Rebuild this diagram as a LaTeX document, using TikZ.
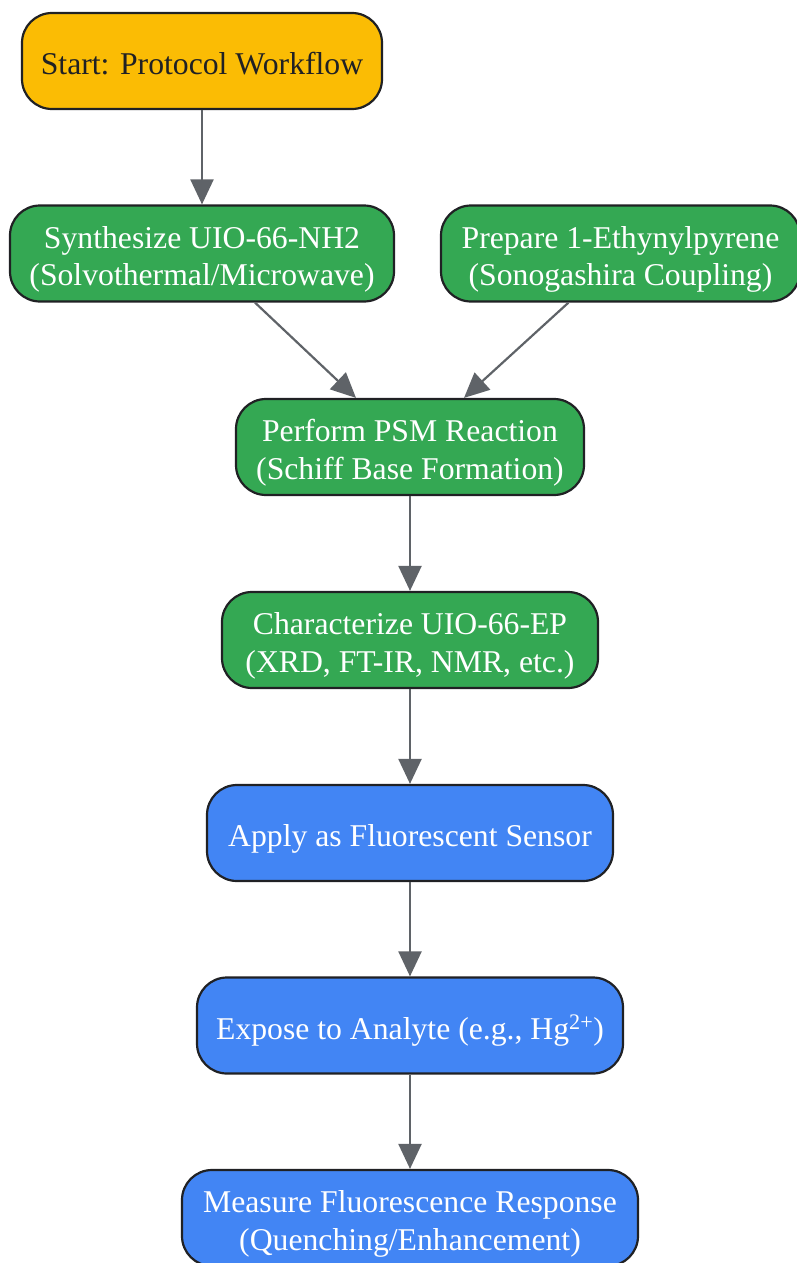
\documentclass[tikz,border=0pt]{standalone}
\usepackage{fontspec}
\setmainfont{Liberation Serif}
\usetikzlibrary{arrows.meta}
\definecolor{cyellow}{HTML}{FBBC04}
\definecolor{cgreen}{HTML}{34A853}
\definecolor{cblue}{HTML}{4285F4}
\definecolor{cedge}{HTML}{5F6368}
\definecolor{cborder}{HTML}{202124}
\newcommand\boxtext[1]{\raisebox{-6pt}[\height][\depth]{\begin{tabular}{@{}c@{}}#1\end{tabular}}}
\tikzset{
  box/.style={draw=cborder, line width=2.2pt, rounded corners=30pt,
    font=\fontsize{31.7}{37.5}\selectfont, inner sep=0pt, minimum height=96pt},
  ybox/.style={box, fill=cyellow, text=cborder},
  gbox/.style={box, fill=cgreen, text=white},
  bbox/.style={box, fill=cblue, text=white},
  arr/.style={draw=cedge, line width=2.2pt, -{Triangle[length=25pt,width=23pt]}}
}
\begin{document}
\begin{tikzpicture}[x=1pt,y=-1pt]
\useasboundingbox (0,0) rectangle (797,1263);
\node[ybox, minimum width=360pt] (start) at (202,61) {\boxtext{Start: Protocol Workflow}};
\node[gbox, minimum width=384pt] (synth) at (202,253.5) {\boxtext{Synthesize UIO-66-NH2\\(Solvothermal/Microwave)}};
\node[gbox, minimum width=359pt] (prep) at (620.5,253.5) {\boxtext{Prepare 1-Ethynylpyrene\\(Sonogashira Coupling)}};
\node[gbox, minimum width=348pt] (psm) at (410,447) {\boxtext{Perform PSM Reaction\\(Schiff Base Formation)}};
\node[gbox, minimum width=376pt] (char) at (410,640) {\boxtext{Characterize UIO-66-EP\\(XRD, FT-IR, NMR, etc.)}};
\node[bbox, minimum width=406pt] (apply) at (410,833) {\boxtext{Apply as Fluorescent Sensor}};
\node[bbox, minimum width=426pt] (expose) at (410,1025.5) {\boxtext{Expose to Analyte (e.g., Hg\textsuperscript{2+})}};
\node[bbox, minimum width=456pt] (meas) at (410,1218) {\boxtext{Measure Fluorescence Response\\(Quenching/Enhancement)}};
\draw[arr] (start.south) -- (synth.north);
\draw[arr] ([xshift=53pt]synth.south) -- ([xshift=-54pt]psm.north);
\draw[arr] ([xshift=-52pt]prep.south) -- ([xshift=54pt]psm.north);
\draw[arr] (psm.south) -- (char.north);
\draw[arr] (char.south) -- (apply.north);
\draw[arr] (apply.south) -- (expose.north);
\draw[arr] (expose.south) -- (meas.north);
\end{tikzpicture}
\end{document}
